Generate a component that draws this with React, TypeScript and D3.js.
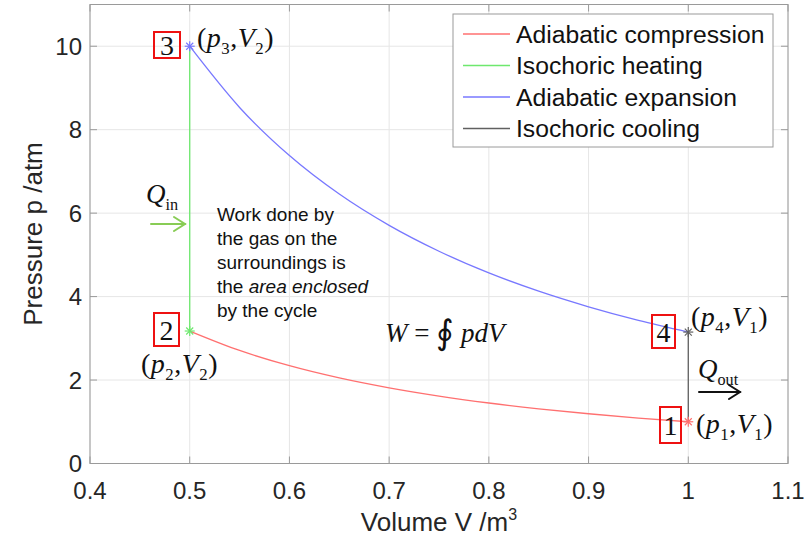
import React from "react";
import * as d3 from "d3";

// ---- data ----
const volumes = [0.5, 0.55, 0.6, 0.65, 0.7, 0.75, 0.8, 0.85, 0.9, 0.95, 1.0];
const compressionP = [3.175, 2.709, 2.343, 2.05, 1.812, 1.615, 1.45, 1.311, 1.192, 1.089, 1.0];
const expansionP = [10.0, 8.533, 7.38, 6.457, 5.707, 5.087, 4.567, 4.129, 3.755, 3.43, 3.15];
const heatingV = [0.5, 0.5];
const heatingP = [3.175, 10.0];
const coolingV = [1.0, 1.0];
const coolingP = [3.15, 1.0];
const xTicks = [0.4, 0.5, 0.6, 0.7, 0.8, 0.9, 1, 1.1];
const yTicks = [0, 2, 4, 6, 8, 10];
const legendLabels = ["Adiabatic compression", "Isochoric heating", "Adiabatic expansion", "Isochoric cooling"];
const workLines = ["Work done by", "the gas on the", "surroundings is", "the |area enclosed", "by the cycle"];

const RED = "#ff7070";
const GREEN = "#6ee86e";
const BLUE = "#7878ff";
const BLACK = "#606060";
const AXIS = "#9a9a9a";
const GRID = "#e6e6e6";
const SANS = "'Liberation Sans', Arial, Helvetica, sans-serif";
const SERIF = "'Liberation Serif', 'Times New Roman', serif";

type Part = { t: string; it?: boolean; sub?: boolean };

function MathText({ x, y, parts, size = 24, anchor = "start", ls = 0 }: { x: number; y: number; parts: Part[]; size?: number; anchor?: string; ls?: number }) {
  let inSub = false;
  const spans = parts.map((p, i) => {
    let dy = 0;
    if (p.sub && !inSub) { dy = size * 0.25; inSub = true; }
    else if (!p.sub && inSub) { dy = -size * 0.25; inSub = false; }
    return (
      <tspan key={i} dy={dy} fontStyle={p.it ? "italic" : "normal"} fontSize={p.sub ? size * 0.6 : size}>
        {p.t}
      </tspan>
    );
  });
  return (
    <text x={x} y={y} fontFamily={SERIF} fontSize={size} textAnchor={anchor} fill="#111" letterSpacing={ls}>
      {spans}
    </text>
  );
}

function Star({ x, y, color, r = 5 }: { x: number; y: number; color: string; r?: number }) {
  const d = r * 0.7;
  return (
    <g stroke={color} strokeWidth={1.2}>
      <line x1={x - r} y1={y} x2={x + r} y2={y} />
      <line x1={x} y1={y - r} x2={x} y2={y + r} />
      <line x1={x - d} y1={y - d} x2={x + d} y2={y + d} />
      <line x1={x - d} y1={y + d} x2={x + d} y2={y - d} />
    </g>
  );
}

function Arrow({ x1, x2, y, color }: { x1: number; x2: number; y: number; color: string }) {
  return (
    <g stroke={color} strokeWidth={2} fill="none" strokeLinecap="round">
      <line x1={x1} y1={y} x2={x2} y2={y} />
      <polyline points={`${x2 - 11},${y - 7} ${x2},${y} ${x2 - 11},${y + 7}`} />
    </g>
  );
}

function NumBox({ x0, x1, y0, y1, label }: { x0: number; x1: number; y0: number; y1: number; label: string }) {
  return (
    <g>
      <rect x={x0} y={y0} width={x1 - x0} height={y1 - y0} fill="none" stroke="#ee1111" strokeWidth={2} />
      <text x={(x0 + x1) / 2} y={(y0 + y1) / 2 + 10} textAnchor="middle" fontFamily={SERIF} fontSize={28} fill="#111">
        {label}
      </text>
    </g>
  );
}

const pv = (a: string, b: string): Part[] => [
  { t: "(" },
  { t: "p", it: true },
  { t: a, sub: true },
  { t: "," },
  { t: "V", it: true },
  { t: b, sub: true },
  { t: ")" },
];

export default function App() {
  const W = 806, H = 545;
  const x = d3.scaleLinear().domain([0.4, 1.1]).range([90, 788]);
  const y = d3.scaleLinear().domain([0, 11]).range([463.5, 4.5]);
  const line = d3
    .line<number[]>()
    .x((d) => x(d[0]))
    .y((d) => y(d[1]))
    .curve(d3.curveMonotoneX);
  const straight = d3
    .line<number[]>()
    .x((d) => x(d[0]))
    .y((d) => y(d[1]));
  const comp = volumes.map((v, i) => [v, compressionP[i]]);
  const exp = volumes.map((v, i) => [v, expansionP[i]]);
  const heat = heatingV.map((v, i) => [v, heatingP[i]]);
  const cool = coolingV.map((v, i) => [v, coolingP[i]]);
  const [xl, xr] = x.range();
  const [yb, yt] = y.range();
  const tickLen = 7;
  const colors = [RED, GREEN, BLUE, BLACK];

  return (
    <svg width={W} height={H} style={{ position: "absolute", left: 0, top: 0, background: "#fff" }}>
      {/* grid */}
      <g stroke={GRID} strokeWidth={1}>
        {xTicks.map((t) => (
          <line key={"gx" + t} x1={x(t)} x2={x(t)} y1={yb} y2={yt} />
        ))}
        {yTicks.map((t) => (
          <line key={"gy" + t} x1={xl} x2={xr} y1={y(t)} y2={y(t)} />
        ))}
      </g>
      {/* curves */}
      <path d={line(comp) || ""} fill="none" stroke={RED} strokeWidth={1.3} />
      <path d={straight(heat) || ""} fill="none" stroke={GREEN} strokeWidth={1.3} />
      <path d={line(exp) || ""} fill="none" stroke={BLUE} strokeWidth={1.3} />
      <path d={straight(cool) || ""} fill="none" stroke={BLACK} strokeWidth={1.3} />
      <Star x={x(comp[comp.length - 1][0])} y={y(comp[comp.length - 1][1])} color={RED} />
      <Star x={x(heat[0][0])} y={y(heat[0][1])} color={GREEN} />
      <Star x={x(exp[0][0])} y={y(exp[0][1])} color={BLUE} />
      <Star x={x(cool[0][0])} y={y(cool[0][1])} color={BLACK} />
      {/* axes box & ticks */}
      <rect x={xl} y={yt} width={xr - xl} height={yb - yt} fill="none" stroke={AXIS} strokeWidth={1} />
      <g stroke={AXIS} strokeWidth={1}>
        {xTicks.map((t) => (
          <g key={"tx" + t}>
            <line x1={x(t)} x2={x(t)} y1={yb} y2={yb - tickLen} />
            <line x1={x(t)} x2={x(t)} y1={yt} y2={yt + tickLen} />
          </g>
        ))}
        {yTicks.map((t) => (
          <g key={"ty" + t}>
            <line x1={xl} x2={xl + tickLen} y1={y(t)} y2={y(t)} />
            <line x1={xr} x2={xr - tickLen} y1={y(t)} y2={y(t)} />
          </g>
        ))}
      </g>
      <g fontFamily={SANS} fontSize={24} fill="#262626">
        {xTicks.map((t) => (
          <text key={"lx" + t} x={x(t)} y={yb + 35} textAnchor="middle">
            {d3.format("~g")(t)}
          </text>
        ))}
        {yTicks.map((t) => (
          <text key={"ly" + t} x={xl - 8} y={y(t) + 8.5} textAnchor="end">
            {t}
          </text>
        ))}
      </g>
      <text x={(xl + xr) / 2} y={531} textAnchor="middle" fontFamily={SANS} fontSize={26} fill="#262626">
        Volume V /m<tspan fontSize={16} dy={-11}>3</tspan>
      </text>
      <text
        transform={`translate(42,${(yb + yt) / 2}) rotate(-90)`}
        textAnchor="middle"
        fontFamily={SANS}
        fontSize={26}
        fill="#262626"
      >
        Pressure p /atm
      </text>
      {/* legend */}
      <rect x={453} y={14} width={320} height={133} fill="#fff" stroke={AXIS} strokeWidth={1} />
      {legendLabels.map((lab, i) => {
        const cy = 34 + i * 31.5;
        return (
          <g key={lab}>
            <line x1={463} x2={510} y1={cy} y2={cy} stroke={colors[i]} strokeWidth={1.3} />
            <text x={516} y={cy + 8.5} fontFamily={SANS} fontSize={24.7} fill="#111">
              {lab}
            </text>
          </g>
        );
      })}
      {/* annotations */}
      <NumBox x0={154} x1={180} y0={32} y1={58} label="3" />
      <MathText x={197} y={47} size={28} ls={0.5} parts={pv("3", "2")} />
      <NumBox x0={154} x1={179} y0={313} y1={346} label="2" />
      <MathText x={141} y={373} size={28} ls={0.5} parts={pv("2", "2")} />
      <NumBox x0={652} x1={675} y0={315} y1={348} label="4" />
      <MathText x={691} y={326} size={28} ls={0.5} parts={pv("4", "1")} />
      <NumBox x0={660} x1={681} y0={407} y1={443} label="1" />
      <MathText x={696} y={433} size={28} ls={0.5} parts={pv("1", "1")} />
      <MathText x={146} y={203} size={27} parts={[{ t: "Q", it: true }, { t: "in", sub: true }]} />
      <Arrow x1={151} x2={185} y={224} color="#88cc55" />
      <MathText x={698} y={378} size={27} parts={[{ t: "Q", it: true }, { t: "out", sub: true }]} />
      <Arrow x1={699} x2={740} y={392} color="#111" />
      <text x={385} y={342} fontFamily={SERIF} fontSize={27} fill="#111">
        <tspan fontStyle="italic">W</tspan>
        <tspan> = </tspan>
        <tspan fontSize={34} dy={2}>∮</tspan>
        <tspan dy={-2} fontStyle="italic"> pdV</tspan>
      </text>
      <g fontFamily={SANS} fontSize={19} fill="#111">
        {workLines.map((ln, i) => {
          const [a, b] = ln.split("|");
          return (
            <text key={i} x={217} y={221 + i * 24}>
              {a}
              {b !== undefined && <tspan fontStyle="italic">{b}</tspan>}
            </text>
          );
        })}
      </g>
    </svg>
  );
}
